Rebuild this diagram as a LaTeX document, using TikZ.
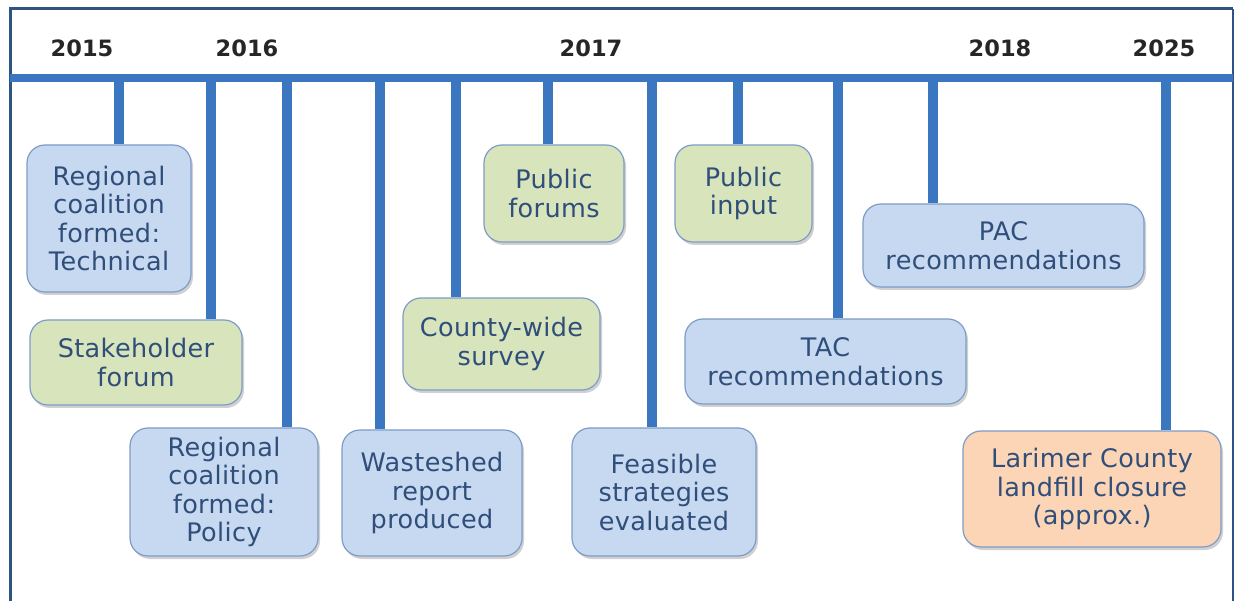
\documentclass[tikz,border=0pt]{standalone}
\usepackage{fontspec}
\setmainfont{DejaVu Sans}
\newfontfamily\boxfont[LetterSpace=1.5]{DejaVu Sans}
\usetikzlibrary{shadows}
\definecolor{barblue}{RGB}{59,118,192}
\definecolor{framec}{RGB}{46,84,132}
\definecolor{txtc}{RGB}{48,78,122}
\definecolor{bluefill}{RGB}{198,217,241}
\definecolor{greenfill}{RGB}{216,228,188}
\definecolor{orangefill}{RGB}{251,213,181}
\definecolor{edgec}{RGB}{126,156,199}
\tikzset{
  evbox/.style={draw=edgec, line width=1.2pt, rounded corners=18pt, align=center,
    text=txtc, font=\boxfont\fontsize{25.5}{28.5}\selectfont, inner sep=0pt,
    drop shadow={shadow xshift=2pt, shadow yshift=-3pt, opacity=0.3, fill=black!60}},
  bluebox/.style={evbox, fill=bluefill},
  greenbox/.style={evbox, fill=greenfill},
  orangebox/.style={evbox, fill=orangefill},
  tickline/.style={draw=barblue, line width=9.5pt},
  yearlbl/.style={font=\fontsize{22.5}{25}\selectfont\bfseries, text=black!85},
}
\begin{document}
\begin{tikzpicture}[x=1pt,y=-1pt]
\useasboundingbox (0,0) rectangle (1235,601);
\fill[white] (0,0) rectangle (1235,601);
% frame
\draw[framec, line width=3pt] (10,601) -- (10,9) -- (1233,9);
\draw[framec, line width=1.5pt] (1233,9) -- (1233,601);
% years
\node[yearlbl] (y15) at (82,48) {2015};
\node[yearlbl] (y16) at (247,48) {2016};
\node[yearlbl] (y17) at (591,48) {2017};
\node[yearlbl] (y18) at (1000,48) {2018};
\node[yearlbl] (y25) at (1164,48) {2025};
% boxes
\node[bluebox, minimum width=164pt, minimum height=147pt] (b1) at (109,218.5) {Regional\\coalition\\formed:\\Technical};
\node[greenbox, minimum width=212pt, minimum height=85pt] (b2) at (136,362.5) {Stakeholder\\forum};
\node[bluebox, minimum width=188pt, minimum height=128pt] (b3) at (224,492) {Regional\\coalition\\formed:\\Policy};
\node[bluebox, minimum width=180pt, minimum height=126pt] (b4) at (432,493) {Wasteshed\\report\\produced};
\node[greenbox, minimum width=197pt, minimum height=92pt] (b5) at (501.5,344) {County-wide\\survey};
\node[greenbox, minimum width=140pt, minimum height=97pt] (b6) at (554,193.5) {Public\\forums};
\node[bluebox, minimum width=184pt, minimum height=128pt] (b7) at (664,492) {Feasible\\strategies\\evaluated};
\node[greenbox, minimum width=137pt, minimum height=97pt] (b8) at (743.5,193.5) {Public\\input};
\node[bluebox, minimum width=281pt, minimum height=85pt] (b9) at (825.5,361.5) {TAC\\recommendations};
\node[bluebox, minimum width=281pt, minimum height=83pt] (b10) at (1003.5,245.5) {PAC\\recommendations};
\node[orangebox, minimum width=258pt, minimum height=116pt] (b11) at (1092,489) {Larimer County\\landfill closure\\(approx.)};
% tick anchors on bar
\coordinate (t1) at (119,78);
\coordinate (t2) at (211,78);
\coordinate (t3) at (287,78);
\coordinate (t4) at (380,78);
\coordinate (t5) at (456,78);
\coordinate (t6) at (548,78);
\coordinate (t7) at (652,78);
\coordinate (t8) at (738,78);
\coordinate (t9) at (838,78);
\coordinate (t10) at (933,78);
\coordinate (t11) at (1166,78);
\draw[tickline] (t1) -- (t1 |- b1.north);
\draw[tickline] (t2) -- (t2 |- b2.north);
\draw[tickline] (t3) -- (t3 |- b3.north);
\draw[tickline] (t4) -- (t4 |- b4.north);
\draw[tickline] (t5) -- (t5 |- b5.north);
\draw[tickline] (t6) -- (t6 |- b6.north);
\draw[tickline] (t7) -- (t7 |- b7.north);
\draw[tickline] (t8) -- (t8 |- b8.north);
\draw[tickline] (t9) -- (t9 |- b9.north);
\draw[tickline] (t10) -- (t10 |- b10.north);
\draw[tickline] (t11) -- (t11 |- b11.north);
% bar
\coordinate (barL) at (10,78);
\coordinate (barR) at (1233,78);
\draw[barblue, line width=8pt] (barL) -- (barR);
\end{tikzpicture}
\end{document}
